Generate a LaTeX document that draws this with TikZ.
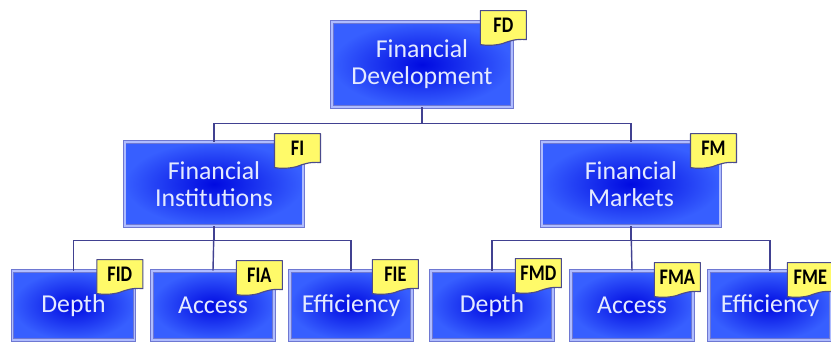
\documentclass[tikz,border=0pt]{standalone}
\usepackage{fontspec}
\setmainfont{Carlito}
\newfontfamily\tagfont{Carlito}[FakeStretch=0.82]
\usetikzlibrary{calc}

\definecolor{boxin}{RGB}{0,10,225}
\definecolor{boxout}{RGB}{55,95,255}
\definecolor{boxrim}{RGB}{175,188,255}
\definecolor{boxedge}{RGB}{110,120,210}
\definecolor{boxtext}{RGB}{228,234,255}
\definecolor{tagfill}{RGB}{255,250,105}
\definecolor{tagedge}{RGB}{75,75,140}
\definecolor{linkcol}{RGB}{65,65,145}

\tikzset{
  box/.style={rectangle, inner color=boxin, outer color=boxout,
    draw=boxedge, double=boxrim, double distance=1.6pt, line width=0.6pt,
    text=boxtext, font=\fontsize{22}{23}\selectfont, align=center, inner sep=0pt},
  topbox/.style={box, minimum width=5.4cm, minimum height=2.55cm},
  midbox/.style={box, minimum width=5.35cm, minimum height=2.52cm},
  lowbox/.style={box, minimum width=3.66cm, minimum height=2.07cm},
  link/.style={draw=linkcol, line width=1.2pt},
  tagline/.style={draw=tagedge, fill=tagfill, line width=1pt, line join=round},
  tagtext/.style={font=\tagfont\bfseries\fontsize{19}{19}\selectfont, text=black, inner sep=0pt}
}

% yellow label: #1 name, #2 top left corner, #3 text
\newcommand{\flag}[3]{%
  \coordinate (#1c) at (#2);
  \begin{scope}[shift={(#1c)}]
    \draw[tagline] (0,0) -- (46,0) -- (46,29)
      .. controls (36,28) and (30,30) .. (22,33)
      .. controls (14,35) and (6,35) .. (0,34) -- cycle;
    \node[tagtext] (#1) at (23,15) {#3};
  \end{scope}
}

\begin{document}
\begin{tikzpicture}[x=0.03cm, y=-0.03cm]
  \useasboundingbox (0,0) rectangle (831,343);

  % boxes
  \node[topbox] (fd) at (422,64.5) {Financial\\Development};
  \node[midbox] (fi) at (214,184) {Financial\\Institutions};
  \node[midbox] (fm) at (631,184) {Financial\\Markets};
  \node[lowbox] (fid) at (73.5,305.5) {Depth};
  \node[lowbox] (fia) at (213,305.5) {Access};
  \node[lowbox] (fie) at (351,305.5) {Efficiency};
  \node[lowbox] (fmd) at (492,305.5) {Depth};
  \node[lowbox] (fma) at (632,305.5) {Access};
  \node[lowbox] (fme) at (770,305.5) {Efficiency};

  % connectors
  \draw[link] (fd.south) -- ++(0,16) -| (fi.north);
  \draw[link] (fd.south) -- ++(0,16) -| (fm.north);
  \draw[link] (fi.south) -- ++(0,14) -| (fid.north);
  \draw[link] (fi.south) -- (fia.north);
  \draw[link] (fi.south) -- ++(0,14) -| (fie.north);
  \draw[link] (fm.south) -- ++(0,14) -| (fmd.north);
  \draw[link] (fm.south) -- (fma.north);
  \draw[link] (fm.south) -- ++(0,14) -| (fme.north);

  % labels
  \flag{tfd}{$(fd.north east)+(-32,-11)$}{FD}
  \flag{tfi}{$(fi.north east)+(-29,-8)$}{FI}
  \flag{tfm}{$(fm.north east)+(-30,-8)$}{FM}
  \flag{tfid}{$(fid.north east)+(-38,-11)$}{FID}
  \flag{tfia}{$(fia.north east)+(-38,-10)$}{FIA}
  \flag{tfie}{$(fie.north east)+(-40,-11)$}{FIE}
  \flag{tfmd}{$(fmd.north east)+(-38,-12)$}{FMD}
  \flag{tfma}{$(fma.north east)+(-39,-8)$}{FMA}
  \flag{tfme}{$(fme.north east)+(-44,-8)$}{FME}
\end{tikzpicture}
\end{document}
